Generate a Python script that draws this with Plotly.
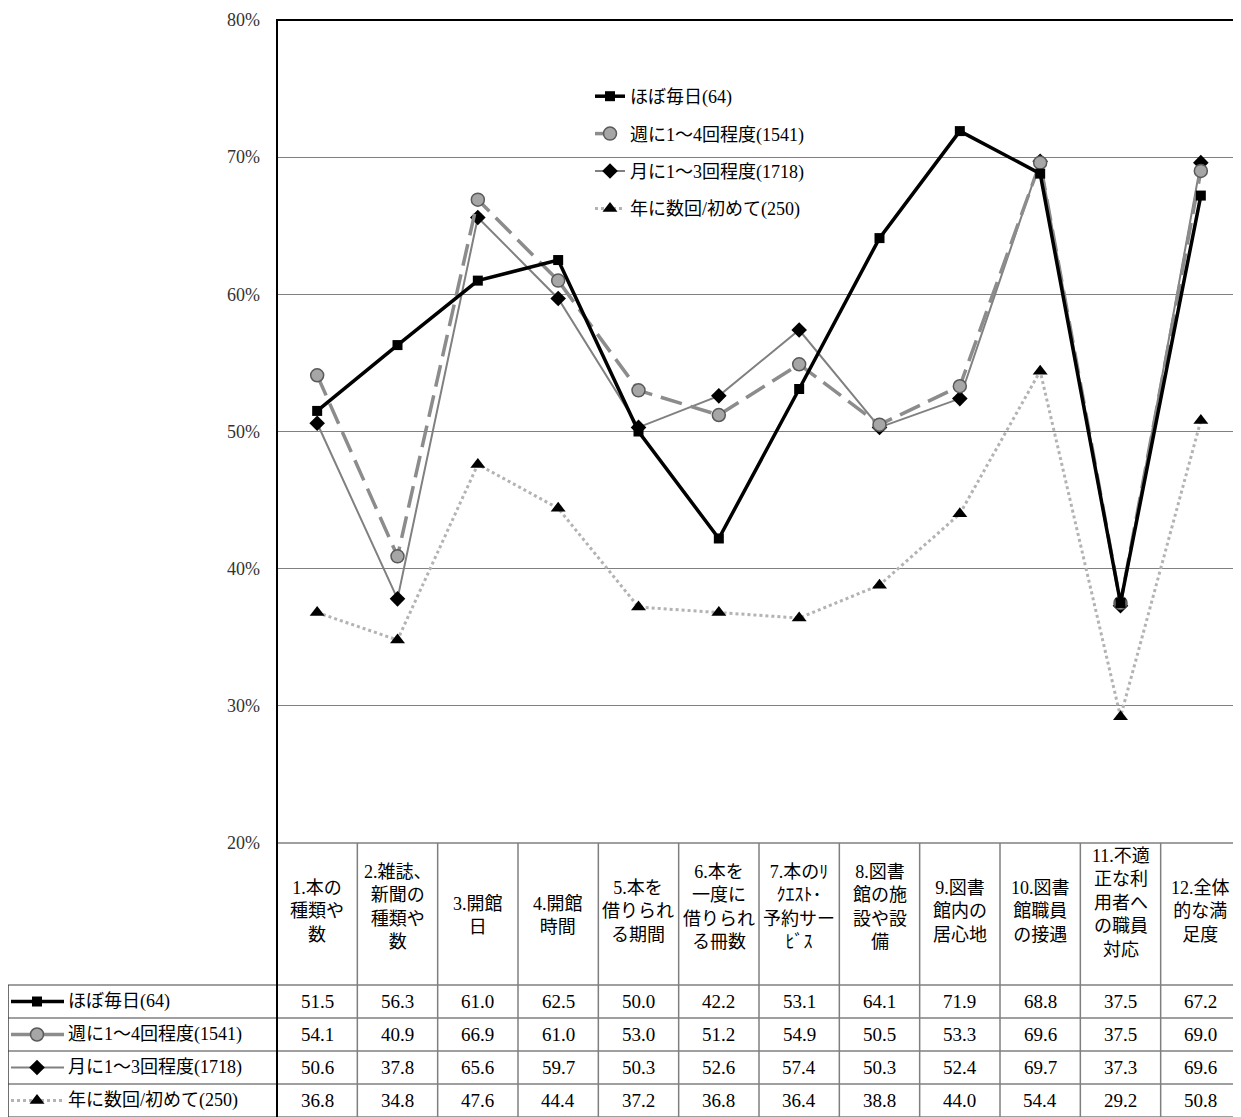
import plotly.graph_objects as go

# The page draws the figure 8px in from the top-left corner.
OFFX, OFFY = 8, 8
W, H = 1241, 1117              # target screen size
FW, FH = W - OFFX, H - OFFY    # figure size

categories = [
    "1.本の<br>種類や<br>数",
    "2.雑誌、<br>新聞の<br>種類や<br>数",
    "3.開館<br>日",
    "4.開館<br>時間",
    "5.本を<br>借りられ<br>る期間",
    "6.本を<br>一度に<br>借りられ<br>る冊数",
    "7.本のﾘ<br>ｸｴｽﾄ･<br>予約サー<br>ﾋﾞｽ",
    "8.図書<br>館の施<br>設や設<br>備",
    "9.図書<br>館内の<br>居心地",
    "10.図書<br>館職員<br>の接遇",
    "11.不適<br>正な利<br>用者へ<br>の職員<br>対応",
    "12.全体<br>的な満<br>足度",
]
series_names = ["ほぼ毎日(64)", "週に1～4回程度(1541)", "月に1～3回程度(1718)", "年に数回/初めて(250)"]
daily = [51.5, 56.3, 61.0, 62.5, 50.0, 42.2, 53.1, 64.1, 71.9, 68.8, 37.5, 67.2]
weekly = [54.1, 40.9, 66.9, 61.0, 53.0, 51.2, 54.9, 50.5, 53.3, 69.6, 37.5, 69.0]
monthly = [50.6, 37.8, 65.6, 59.7, 50.3, 52.6, 57.4, 50.3, 52.4, 69.7, 37.3, 69.6]
yearly = [36.8, 34.8, 47.6, 44.4, 37.2, 36.8, 36.4, 38.8, 44.0, 54.4, 29.2, 50.8]
y_ticks = [20, 30, 40, 50, 60, 70, 80]

series_values = [daily, weekly, monthly, yearly]

FONT = "Liberation Serif, Noto Sans CJK JP, serif"
styles = [
    dict(line=dict(color="#000000", width=3.5),
         marker=dict(symbol="square", size=10, color="#000000")),
    dict(line=dict(color="#8c8c8c", width=3.5, dash="22px,9px"),
         marker=dict(symbol="circle", size=13, color="#a6a6a6", line=dict(color="#595959", width=1.5))),
    dict(line=dict(color="#808080", width=2),
         marker=dict(symbol="diamond", size=12, color="#000000")),
    dict(line=dict(color="#b3b3b3", width=3, dash="dot"),
         marker=dict(symbol="triangle-up", size=13, color="#000000")),
]

# layout geometry (screen pixels)
PL, PT, PB = 277, 20, 843
HDR_B = 985
ROW_H = 33
TBL_L = 8


def px(x):
    return (x - OFFX) / FW


def py(y):
    return 1 - (y - OFFY) / FH


fig = go.Figure()
xs = list(range(len(categories)))
for i in [3, 2, 1, 0]:
    fig.add_trace(go.Scatter(
        x=xs, y=series_values[i], name=series_names[i], mode="lines+markers",
        line=styles[i]["line"], marker=styles[i]["marker"],
        legendgroup=str(i), legendrank=i + 1,
        xaxis="x", yaxis="y", cliponaxis=False,
    ))

# legend swatches in the data table (overlay axis in screen-pixel units)
for i in range(4):
    yc = HDR_B + ROW_H * i + ROW_H / 2
    st = styles[i]
    fig.add_trace(go.Scatter(
        x=[11, 64], y=[yc, yc], mode="lines", line=st["line"],
        showlegend=False, hoverinfo="skip", xaxis="x2", yaxis="y2"))
    fig.add_trace(go.Scatter(
        x=[37], y=[yc], mode="markers", marker=st["marker"],
        showlegend=False, hoverinfo="skip", xaxis="x2", yaxis="y2"))

shapes = []
gray = "#7f7f7f"
ncat = len(categories)
colw = (W - PL) / ncat
# header top (20% line) and row separators
shapes.append(dict(type="line", xref="paper", yref="paper", x0=px(PL), x1=1,
                   y0=py(PB), y1=py(PB), line=dict(color=gray, width=1.5)))
for k in range(5):
    yy = HDR_B + ROW_H * k
    shapes.append(dict(type="line", xref="paper", yref="paper", x0=px(TBL_L), x1=1,
                       y0=py(yy), y1=py(yy), line=dict(color=gray, width=1.5)))
for k in range(1, ncat):
    xx = PL + colw * k
    shapes.append(dict(type="line", xref="paper", yref="paper", x0=px(xx), x1=px(xx),
                       y0=py(PB), y1=py(H), line=dict(color=gray, width=1.5)))
shapes.append(dict(type="line", xref="paper", yref="paper", x0=px(TBL_L), x1=px(TBL_L),
                   y0=py(HDR_B), y1=py(H), line=dict(color="#404040", width=1.5)))
# top border and left axis (black)
shapes.append(dict(type="line", xref="paper", yref="paper", x0=px(PL), x1=1,
                   y0=py(PT), y1=py(PT), line=dict(color="#000000", width=2)))
shapes.append(dict(type="line", xref="paper", yref="paper", x0=px(PL), x1=px(PL),
                   y0=py(PT - 1), y1=py(H), line=dict(color="#000000", width=2)))

annotations = []
for k, cat in enumerate(categories):
    xc = PL + colw * (k + 0.5)
    nlines = cat.count("<br>") + 1
    yc = 923 - 4 * nlines
    annotations.append(dict(text=cat, xref="paper", yref="paper", x=px(xc), y=py(yc),
                            xanchor="center", yanchor="middle", showarrow=False, align="center",
                            font=dict(size=18, family=FONT, color="#000000")))
for i in range(4):
    yc = HDR_B + ROW_H * i + ROW_H / 2
    annotations.append(dict(text=series_names[i], xref="paper", yref="paper", x=px(66), y=py(yc),
                            xanchor="left", yanchor="middle", showarrow=False,
                            font=dict(size=18, family=FONT, color="#000000")))
    for k, v in enumerate(series_values[i]):
        xc = PL + colw * (k + 0.5)
        annotations.append(dict(text=f"{v:.1f}", xref="paper", yref="paper", x=px(xc), y=py(yc),
                                xanchor="center", yanchor="middle", showarrow=False,
                                font=dict(size=19, family=FONT, color="#000000")))

fig.update_layout(
    width=FW, height=FH,
    margin=dict(l=0, r=0, t=0, b=0, autoexpand=False),
    paper_bgcolor="white", plot_bgcolor="rgba(0,0,0,0)",
    font=dict(family=FONT, size=18, color="#000000"),
    xaxis=dict(domain=[px(PL), 1], range=[-0.5, ncat - 0.5], showticklabels=False,
               showgrid=False, zeroline=False, showline=False, ticks="", automargin=False),
    yaxis=dict(domain=[py(PB), py(PT)], range=[20, 80], tickvals=y_ticks,
               ticktext=[f"{t}%" for t in y_ticks], showgrid=True, gridcolor="#808080",
               gridwidth=1, zeroline=False, showline=False, ticks="", automargin=False,
               ticklabelstandoff=16, tickfont=dict(size=18, family=FONT, color="#333333")),
    xaxis2=dict(domain=[0, 1], range=[OFFX, W], visible=False, fixedrange=True, automargin=False),
    yaxis2=dict(domain=[0, 1], range=[H, OFFY], visible=False, fixedrange=True, automargin=False),
    legend=dict(x=px(590), y=py(78), xanchor="left", yanchor="top",
                bgcolor="rgba(0,0,0,0)", font=dict(size=18, family=FONT),
                tracegroupgap=11, traceorder="grouped"),
    shapes=shapes,
    annotations=annotations,
    showlegend=True,
)

fig.write_html("out.html")
